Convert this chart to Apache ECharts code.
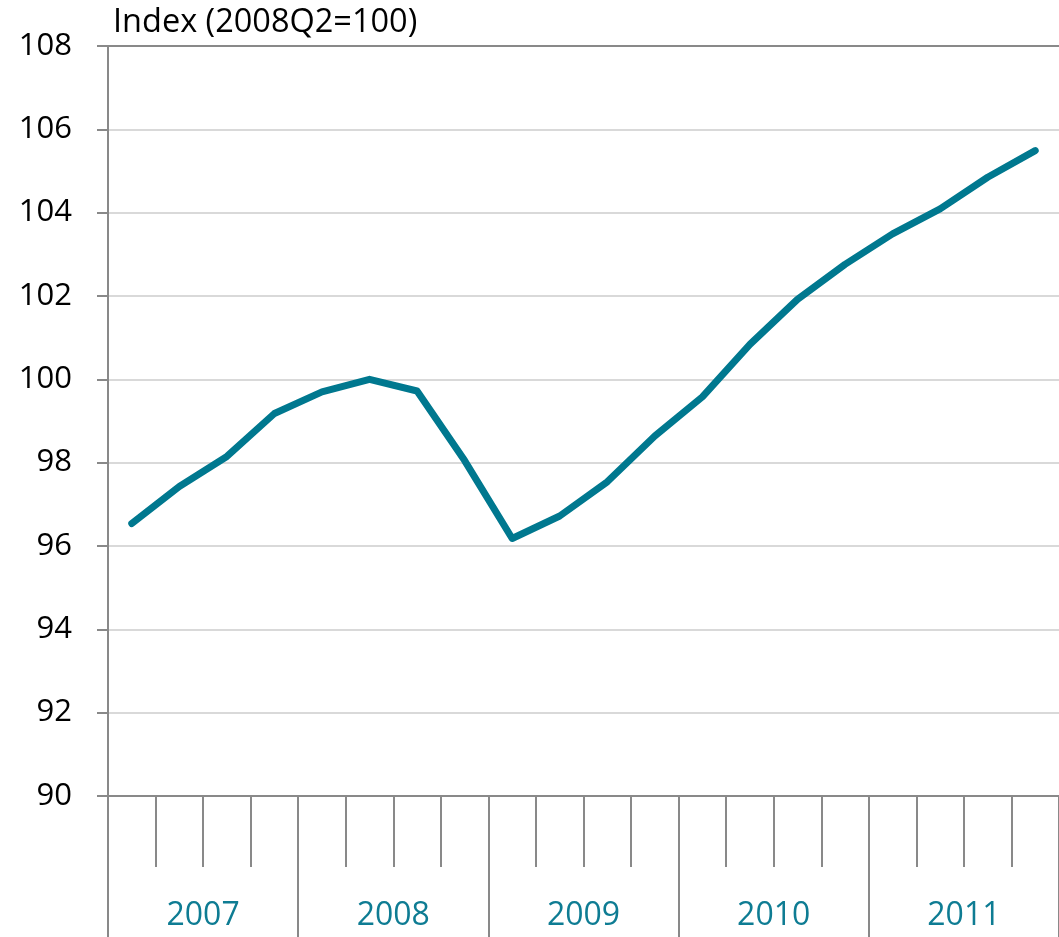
<!DOCTYPE html>
<html>
<head>
<meta charset="utf-8">
<script src="https://cdn.jsdelivr.net/npm/echarts@6/dist/echarts.min.js"></script>
<style>
html,body{margin:0;padding:0;background:#fff;}
#chart{width:1059px;height:937px;}
</style>
</head>
<body>
<div id="chart"></div>
<script>
const years = ['2007', '2008', '2009', '2010', '2011'];
const quarters = ['2007Q1','2007Q2','2007Q3','2007Q4',
                  '2008Q1','2008Q2','2008Q3','2008Q4',
                  '2009Q1','2009Q2','2009Q3','2009Q4',
                  '2010Q1','2010Q2','2010Q3','2010Q4',
                  '2011Q1','2011Q2','2011Q3','2011Q4'];
const indexValues = [96.54, 97.43, 98.15, 99.18,
                     99.70, 100.0, 99.72, 98.05,
                     96.18, 96.72, 97.54, 98.64,
                     99.58, 100.84, 101.92, 102.76,
                     103.49, 104.09, 104.85, 105.49];
const yTicks = {min: 90, max: 108, interval: 2};
const unitLabel = 'Index (2008Q2=100)';

const axisGray = '#898989';
const teal = '#00788F';
const fontFam = '"Open Sans", "Liberation Sans", sans-serif';

const chart = echarts.init(document.getElementById('chart'), null, {renderer: 'canvas'});
chart.setOption({
  animation: false,
  backgroundColor: '#fff',
  grid: {left: 108, top: 46, width: 956, height: 750, containLabel: false},
  graphic: [{
    type: 'text', left: 113, top: 6,
    style: {text: unitLabel, font: '32.5px ' + fontFam, fill: '#000'}
  }],
  xAxis: [
    {
      type: 'category', data: quarters, position: 'bottom', boundaryGap: true,
      axisLine: {show: true, onZero: false, lineStyle: {color: axisGray, width: 2}},
      axisTick: {show: true, interval: 0, length: 71, lineStyle: {color: axisGray, width: 2}},
      axisLabel: {show: false},
      splitLine: {show: false}
    },
    {
      type: 'category', data: years, position: 'bottom', boundaryGap: true,
      axisLine: {show: false, onZero: false},
      axisTick: {show: true, interval: 0, length: 145, lineStyle: {color: axisGray, width: 2}},
      axisLabel: {show: true, interval: 0, margin: 104, color: '#0E7C93', fontSize: 32, fontFamily: fontFam},
      splitLine: {show: false}
    },
    {
      type: 'category', data: quarters, position: 'top', boundaryGap: true,
      axisLine: {show: true, onZero: false, lineStyle: {color: axisGray, width: 2}},
      axisTick: {show: false},
      axisLabel: {show: false},
      splitLine: {show: false}
    }
  ],
  yAxis: {
    type: 'value', min: yTicks.min, max: yTicks.max, interval: yTicks.interval,
    axisLine: {show: true, onZero: false, lineStyle: {color: axisGray, width: 2}},
    axisTick: {show: true, length: 11, lineStyle: {color: axisGray, width: 2}},
    axisLabel: {show: true, margin: 36, color: '#000', fontSize: 31, fontFamily: fontFam},
    splitLine: {show: true, lineStyle: {color: '#D9D9D9', width: 2}}
  },
  series: [{
    type: 'line', xAxisIndex: 0, yAxisIndex: 0,
    data: indexValues,
    symbol: 'none', smooth: false,
    lineStyle: {color: teal, width: 7, cap: 'round', join: 'round'}
  }]
});
</script>
</body>
</html>
